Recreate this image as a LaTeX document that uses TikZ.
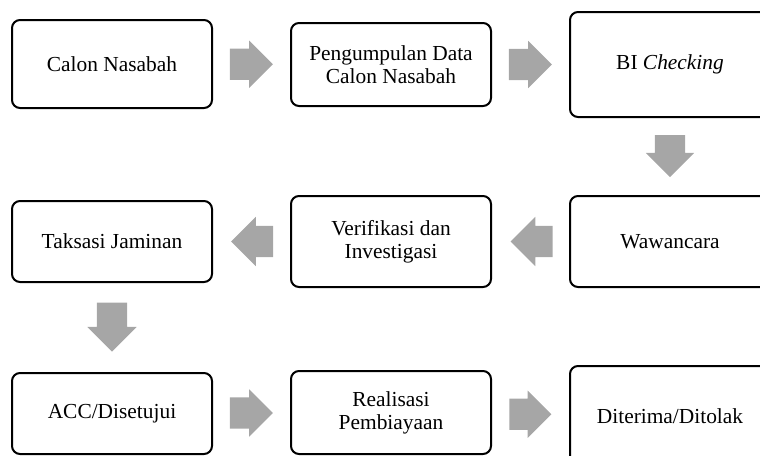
\documentclass[tikz,border=0pt]{standalone}
\usepackage{fontspec}
\setmainfont{Liberation Serif}
\usetikzlibrary{shapes.arrows,calc}
\definecolor{arrowgray}{HTML}{A6A6A6}
\begin{document}
\begin{tikzpicture}[x=1pt,y=-1pt,
  box/.style={draw, line width=2pt, rounded corners=8pt, minimum width=200pt, inner sep=0pt,
    align=center, font=\fontsize{21.4}{23}\selectfont},
  barrow/.style={single arrow, fill=arrowgray, draw=none, inner xsep=0pt, inner ysep=15.5pt,
    text height=0pt, text depth=0pt, text width=0pt,
    single arrow head extend=8pt, single arrow head indent=0pt,
    minimum width=47pt, minimum height=43pt}]
\clip (0,0) rectangle (760,455);
% boxes
\node[box, minimum height=88pt] (n1) at (112,64) {Calon Nasabah};
\node[box, minimum height=83pt] (n2) at (391,64.5) {Pengumpulan Data\\Calon Nasabah};
\node[box, minimum height=105pt] (n3) at (670,64.5) {BI \textit{Checking}};
\node[box, minimum height=91pt] (n4) at (670,241.5) {Wawancara};
\node[box, minimum height=91pt] (n5) at (391,241.5) {Verifikasi dan\\Investigasi};
\node[box, minimum height=81pt] (n6) at (112,241.5) {Taksasi Jaminan};
\node[box, minimum height=81pt] (n7) at (112,413.5) {ACC/Disetujui};
\node[box, minimum height=83pt] (n8) at (391,412.5) {Realisasi\\Pembiayaan};
\node[box, minimum height=100pt] (n9) at (670,416) {Diterima/Ditolak};
% block arrows
\node[barrow] (a1) at ($(n1.east)!0.5!(n2.west)+(-8,0)$) {};
\node[barrow] (a2) at ($(n2.east)!0.5!(n3.west)+(-8,0)$) {};
\node[barrow, rotate=-90, inner ysep=15pt, minimum width=48pt, minimum height=42pt, single arrow head extend=9pt] (a3) at ($(n3.south)!0.5!(n4.north)+(0,-8)$) {};
\node[barrow, rotate=180, minimum width=49pt, minimum height=42pt, single arrow head extend=9pt] (a4) at ($(n4.west)!0.5!(n5.east)+(9,0)$) {};
\node[barrow, rotate=180, minimum width=49pt, minimum height=42pt, single arrow head extend=9pt] (a5) at ($(n5.west)!0.5!(n6.east)+(8.5,0)$) {};
\node[barrow, rotate=-90, inner ysep=15pt, minimum width=49pt, minimum height=49pt, single arrow head extend=9.5pt] (a6) at ($(n6.south)!0.5!(n7.north)+(0,-8)$) {};
\node[barrow] (a7) at ($(n7.east)!0.5!(n8.west)+(-8,0)$) {};
\node[barrow, minimum height=42pt] (a8) at ($(n8.east)!0.5!(n9.west)+(-8,0)$) {};
\end{tikzpicture}
\end{document}
